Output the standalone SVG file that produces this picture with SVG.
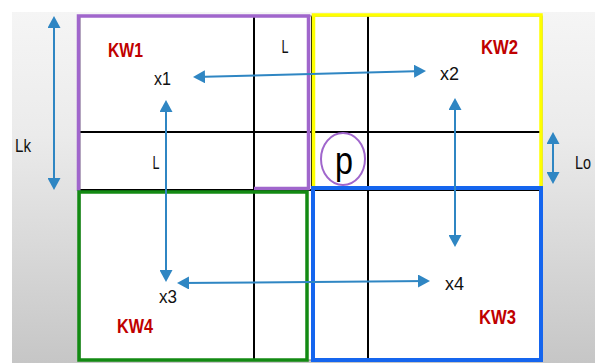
<svg xmlns="http://www.w3.org/2000/svg" width="595" height="363" viewBox="0 0 595 363">
<defs>
<linearGradient id="bg" x1="0" y1="0" x2="0" y2="1">
<stop offset="0" stop-color="#f5f5f5"/>
<stop offset="0.35" stop-color="#ebebeb"/>
<stop offset="1" stop-color="#c6c6c6"/>
</linearGradient>
<marker id="ah" viewBox="0 0 12 13" refX="10" refY="6.5" markerWidth="12" markerHeight="13" markerUnits="userSpaceOnUse" orient="auto-start-reverse">
<path d="M0,0 L12,6.5 L0,13 z" fill="#2f86c3"/>
</marker>
<style>
.grid{stroke:#000;stroke-width:2;fill:none}
.frame{stroke:#777;stroke-width:1;fill:none}
.arr{stroke:#2f86c3;stroke-width:2;fill:none;marker-start:url(#ah);marker-end:url(#ah)}
.kw{font-family:"Liberation Sans",Arial,sans-serif;font-weight:bold;font-size:21px;fill:#c00000}
.lab{font-family:"Liberation Sans",Arial,sans-serif;font-size:18px;fill:#111}
.big{font-size:19px}
.pp{font-size:38px;fill:#000}
</style>
</defs>
<rect x="0" y="0" width="595" height="363" fill="#fff"/>
<rect x="12" y="12" width="583" height="351" fill="url(#bg)"/>
<rect x="80" y="16" width="462" height="344" fill="#fff"/>

<g id="grid">
<path class="grid" d="M254,16 V360 M312,16 V360 M368,16 V360 M80,132 H542 M80,190 H542"/>
<rect class="frame" x="80" y="16" width="462" height="344"/>
</g>

<g id="KW1">
<path d="M78.5,191 V16 H308.5 V188.5 H254" fill="none" stroke="#a066cc" stroke-width="3.5"/>
<text class="kw" x="108" y="57" textLength="35" lengthAdjust="spacingAndGlyphs">KW1</text>
</g>
<g id="KW2">
<rect x="313.5" y="15" width="227.5" height="173" fill="none" stroke="#ffff00" stroke-width="3.5"/>
<text class="kw" x="481" y="54" textLength="37" lengthAdjust="spacingAndGlyphs">KW2</text>
</g>
<g id="KW3">
<rect x="313" y="188" width="228" height="172" fill="none" stroke="#1565ee" stroke-width="4"/>
<text class="kw" x="479" y="324" textLength="37" lengthAdjust="spacingAndGlyphs">KW3</text>
</g>
<g id="KW4">
<rect x="79" y="192" width="228" height="168" fill="none" stroke="#138a13" stroke-width="3.5"/>
<text class="kw" x="117" y="333" textLength="36" lengthAdjust="spacingAndGlyphs">KW4</text>
</g>

<g id="x1"><text class="lab" x="154" y="85" textLength="17" lengthAdjust="spacingAndGlyphs">x1</text></g>
<g id="x2"><text class="lab" x="440" y="80" textLength="19" lengthAdjust="spacingAndGlyphs">x2</text></g>
<g id="x3"><text class="lab" x="159" y="303" textLength="18" lengthAdjust="spacingAndGlyphs">x3</text></g>
<g id="x4"><text class="lab" x="445" y="290" textLength="19" lengthAdjust="spacingAndGlyphs">x4</text></g>

<g id="labels">
<text class="lab big" x="281.5" y="53" textLength="7" lengthAdjust="spacingAndGlyphs">L</text>
<text class="lab big" x="152.5" y="169" textLength="7" lengthAdjust="spacingAndGlyphs">L</text>
<text class="lab big" x="15" y="152" textLength="16" lengthAdjust="spacingAndGlyphs">Lk</text>
<text class="lab big" x="575" y="169" textLength="16" lengthAdjust="spacingAndGlyphs">Lo</text>
</g>

<g id="p">
<ellipse cx="343" cy="159" rx="22" ry="26" fill="none" stroke="#a066cc" stroke-width="2"/>
<text class="lab pp" x="335" y="174" textLength="18" lengthAdjust="spacingAndGlyphs">p</text>
</g>

<g id="connectors">
<path class="arr" d="M195,77 L424,71"/>
<path class="arr" d="M166,102 V280"/>
<path class="arr" d="M179,283 L428,281"/>
<path class="arr" d="M455,100 V245"/>
<path class="arr" d="M54,18 V188"/>
<path class="arr" d="M553,134 V182"/>
</g>
</svg>
